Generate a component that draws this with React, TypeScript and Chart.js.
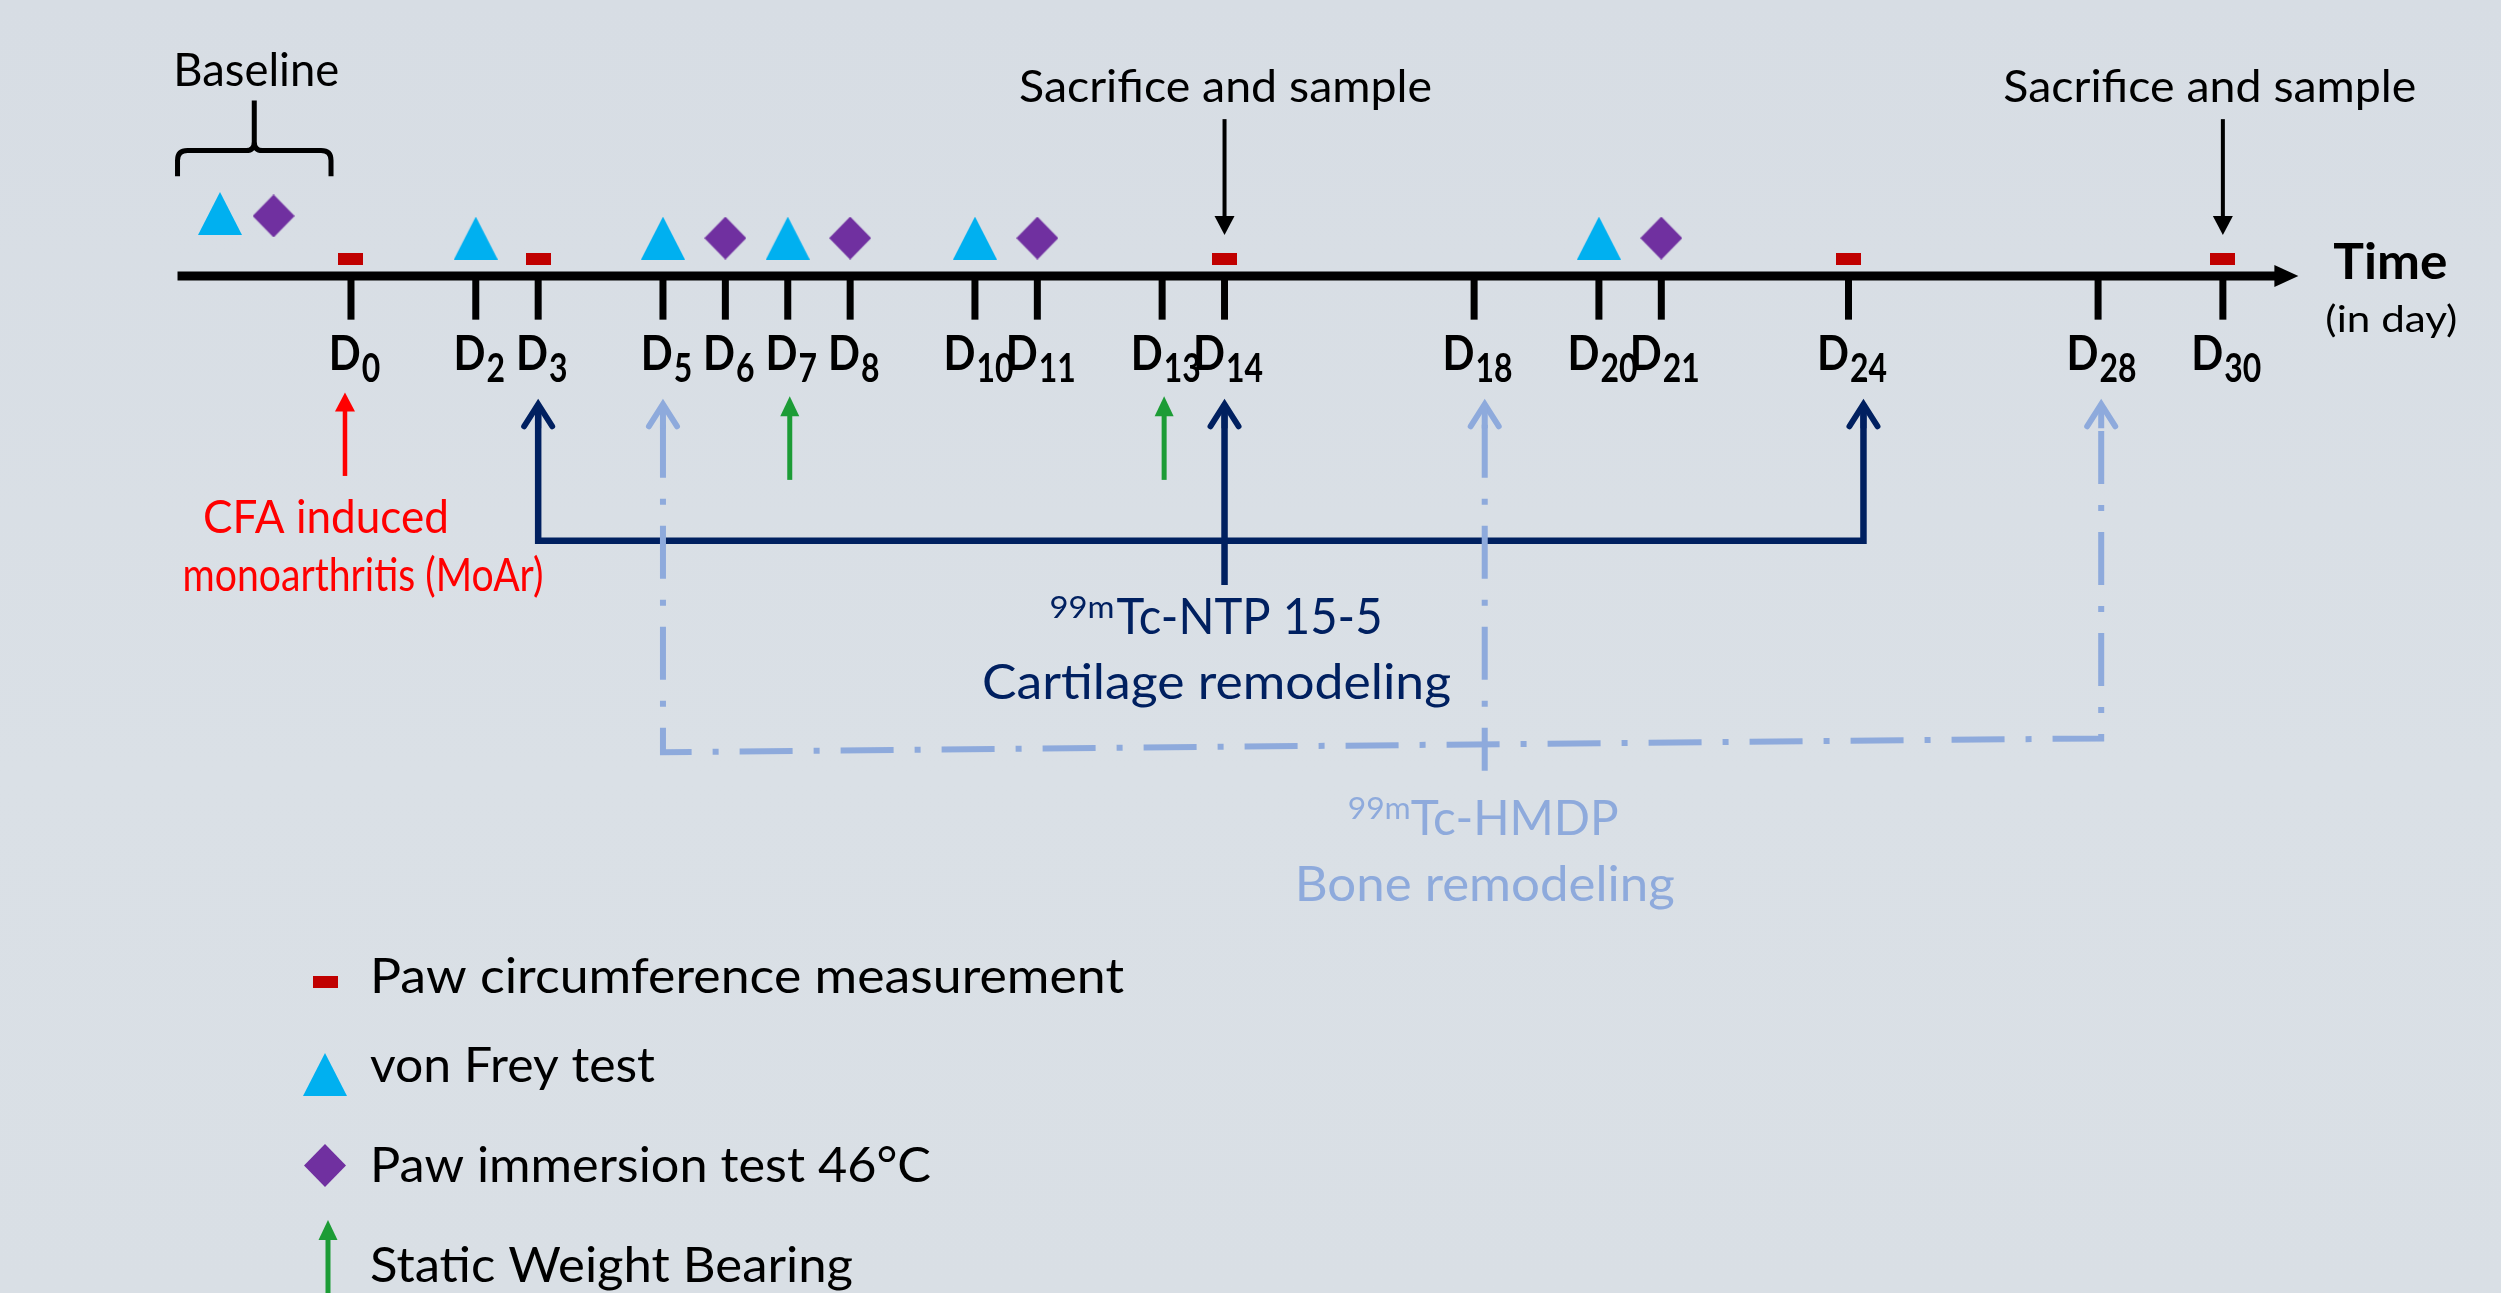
import React, { useEffect, useRef } from 'react';
import { Chart, registerables } from 'chart.js';

Chart.register(...registerables);

// ---------------- data ----------------
const tickDays = [0, 2, 3, 5, 6, 7, 8, 10, 11, 13, 14, 18, 20, 21, 24, 28, 30];
const tickLabels = ['0', '2', '3', '5', '6', '7', '8', '10', '11', '13', '14', '18', '20', '21', '24', '28', '30'];
const baselineVonFreyDays = [-2.1];
const baselineImmersionDays = [-1.24];
const vonFreyDays = [2, 5, 7, 10, 20];
const immersionDays = [6, 8, 11, 21];
const pawCircumferenceDays = [0, 3, 14, 24, 30];
const weightBearingDays = [7, 13];
const cfaDays = [0];
const sacrificeDays = [14, 30];
const ntpScanDays = [3, 14, 24.24];
const hmdpScanDays = [5, 18.17, 28.05];
const baselineSpan = [-2.78, -0.32];
const axisSpan = [-2.78, 31.21];
const legendLabels = ['Paw circumference measurement', 'von Frey test', 'Paw immersion test 46°C', 'Static Weight Bearing'];

// ---------------- layout ----------------
const W = 2501;
const H = 1293;
const PX_PER_DAY = 62.95;
const DAY0_PX = 343;
const X_MIN = -DAY0_PX / PX_PER_DAY;
const X_MAX = (W - DAY0_PX) / PX_PER_DAY;

const NAVY = '#002060';
const LIGHT_BLUE = '#8eaadc';
const GREEN = '#1c9c36';
const RED = '#ff0000';
const DARK_RED = '#c00000';
const CYAN = '#00b0f0';
const PURPLE = '#7030a0';
const FONT = 'Lato, "Open Sans", sans-serif';

const Y = {
  axis: 269.5,
  rect: 252,
  marker: 231,
  baseTri: 206,
  baseDia: 208.5,
  tickBottom: 314,
  labelBase: 365,
  subBase: 377,
  cfaTip: 388,
  cfaTail: 473,
  wbTip: 392,
  wbTail: 477,
  scanTip: 397,
  ntpBar: 539,
  ntpStem: 584,
  hmdpLeft: 754,
  hmdpRight: 740,
  hmdpStem: 773,
  sacTop: 110,
  sacTip: 228,
};

function mkCanvas(w: number, h: number, draw: (c: CanvasRenderingContext2D) => void) {
  const c = document.createElement('canvas');
  c.width = w;
  c.height = h;
  draw(c.getContext('2d') as CanvasRenderingContext2D);
  return c;
}

function makeImages() {
  const tri = mkCanvas(44, 43, (c) => {
    c.fillStyle = CYAN;
    c.beginPath();
    c.moveTo(22, 0);
    c.lineTo(44, 43);
    c.lineTo(0, 43);
    c.closePath();
    c.fill();
  });
  const dia = mkCanvas(42, 43, (c) => {
    c.fillStyle = PURPLE;
    c.beginPath();
    c.moveTo(21, 0);
    c.lineTo(42, 21.5);
    c.lineTo(21, 43);
    c.lineTo(0, 21.5);
    c.closePath();
    c.fill();
  });
  const rect = mkCanvas(25, 12, (c) => {
    c.fillStyle = DARK_RED;
    c.fillRect(0, 0, 25, 12);
  });
  return { tri, dia, rect };
}

function fitText(
  ctx: CanvasRenderingContext2D,
  text: string,
  x: number,
  y: number,
  size: number,
  weight: string,
  color: string,
  width: number,
  align: 'left' | 'center'
) {
  ctx.save();
  ctx.font = `${weight} ${size}px ${FONT}`;
  ctx.fillStyle = color;
  ctx.textBaseline = 'alphabetic';
  ctx.textAlign = 'left';
  const m = ctx.measureText(text).width;
  const sx = width / m;
  const left = align === 'center' ? x - width / 2 : x;
  ctx.translate(left, y);
  ctx.scale(sx, 1);
  ctx.fillText(text, 0, 0);
  ctx.restore();
}

function filledArrow(
  ctx: CanvasRenderingContext2D,
  x: number,
  yTip: number,
  yTail: number,
  color: string,
  lw: number,
  headW: number,
  headL: number
) {
  const dir = yTail > yTip ? 1 : -1;
  ctx.save();
  ctx.strokeStyle = color;
  ctx.fillStyle = color;
  ctx.lineWidth = lw;
  ctx.lineCap = 'butt';
  ctx.beginPath();
  ctx.moveTo(x, yTail);
  ctx.lineTo(x, yTip + dir * (headL - 2));
  ctx.stroke();
  ctx.beginPath();
  ctx.moveTo(x, yTip);
  ctx.lineTo(x + headW / 2, yTip + dir * headL);
  ctx.lineTo(x - headW / 2, yTip + dir * headL);
  ctx.closePath();
  ctx.fill();
  ctx.restore();
}

function chevron(ctx: CanvasRenderingContext2D, x: number, yTip: number, color: string, lw: number, halfW: number, len: number) {
  ctx.save();
  ctx.strokeStyle = color;
  ctx.lineWidth = lw;
  ctx.lineCap = 'round';
  ctx.lineJoin = 'miter';
  ctx.beginPath();
  ctx.moveTo(x - halfW, yTip + len);
  ctx.lineTo(x, yTip + 3);
  ctx.lineTo(x + halfW, yTip + len);
  ctx.stroke();
  ctx.lineCap = 'butt';
  ctx.beginPath();
  ctx.moveTo(x, yTip + 5);
  ctx.lineTo(x, yTip + len + 2);
  ctx.stroke();
  ctx.restore();
}

const timelinePlugin = {
  id: 'timelineDecor',
  afterDatasetsDraw(chart: any) {
    const ctx: CanvasRenderingContext2D = chart.ctx;
    const xs = chart.scales.x;
    const ys = chart.scales.y;
    const px = (d: number) => xs.getPixelForValue(d);
    const py = (v: number) => ys.getPixelForValue(v);

    // axis arrow head
    const tip = px(axisSpan[1]);
    ctx.save();
    ctx.fillStyle = '#000';
    ctx.beginPath();
    ctx.moveTo(tip, py(Y.axis));
    ctx.lineTo(tip - 24, py(Y.axis) - 11);
    ctx.lineTo(tip - 24, py(Y.axis) + 11);
    ctx.closePath();
    ctx.fill();
    ctx.restore();

    // ticks and labels
    tickDays.forEach((d, i) => {
      const x = px(d);
      ctx.save();
      ctx.strokeStyle = '#000';
      ctx.lineWidth = 7;
      ctx.beginPath();
      ctx.moveTo(x, py(Y.axis));
      ctx.lineTo(x, py(Y.tickBottom));
      ctx.stroke();
      ctx.restore();

      const wD = 32;
      const wS = 18.5 * tickLabels[i].length;
      const left = x + 3 - (wD + wS) / 2;
      fitText(ctx, 'D', left, py(Y.labelBase), 47, 'bold', '#000', wD, 'left');
      fitText(ctx, tickLabels[i], left + wD + 1, py(Y.subBase), 41, 'bold', '#000', wS, 'left');
    });

    // baseline brace
    const bx0 = px(baselineSpan[0]);
    const bx1 = px(baselineSpan[1]);
    const bxm = (bx0 + bx1) / 2;
    ctx.save();
    ctx.strokeStyle = '#000';
    ctx.lineWidth = 5;
    ctx.lineJoin = 'round';
    ctx.beginPath();
    ctx.moveTo(bx0, py(168));
    ctx.lineTo(bx0, py(152));
    ctx.quadraticCurveTo(bx0, py(142), bx0 + 10, py(142));
    ctx.lineTo(bxm - 8, py(142));
    ctx.quadraticCurveTo(bxm, py(142), bxm, py(133));
    ctx.lineTo(bxm, py(91));
    ctx.moveTo(bxm, py(133));
    ctx.quadraticCurveTo(bxm, py(142), bxm + 8, py(142));
    ctx.lineTo(bx1 - 10, py(142));
    ctx.quadraticCurveTo(bx1, py(142), bx1, py(152));
    ctx.lineTo(bx1, py(168));
    ctx.stroke();
    ctx.restore();
    fitText(ctx, 'Baseline', bxm + 2, py(76), 46, 'normal', '#000', 166, 'center');

    // sacrifice arrows + texts
    const sacTextOffsets = [1, -13];
    sacrificeDays.forEach((d, i) => {
      const x = px(d);
      filledArrow(ctx, x, py(Y.sacTip), py(Y.sacTop), '#000', 4, 20, 19);
      fitText(ctx, 'Sacrifice and sample', x + sacTextOffsets[i], py(93), 44, 'normal', '#000', 413, 'center');
    });

    // CFA arrow
    cfaDays.forEach((d) => {
      filledArrow(ctx, px(d) - 6, py(Y.cfaTip), py(Y.cfaTail), RED, 4.5, 20, 19);
      fitText(ctx, 'CFA induced', px(d) - 25, py(531), 46, 'normal', RED, 246, 'center');
      fitText(ctx, 'monoarthritis (MoAr)', px(d) + 12, py(590), 46, 'normal', RED, 361, 'center');
    });

    // static weight bearing arrows
    weightBearingDays.forEach((d) => {
      filledArrow(ctx, px(d) + 2, py(Y.wbTip), py(Y.wbTail), GREEN, 5, 19, 20);
    });

    // scan arrowheads
    ntpScanDays.forEach((d) => chevron(ctx, px(d), py(Y.scanTip), NAVY, 6, 14, 25));
    hmdpScanDays.forEach((d) => chevron(ctx, px(d), py(Y.scanTip), LIGHT_BLUE, 6, 14, 25));

    // NTP text
    const ntpX = px(ntpScanDays[1]);
    fitText(ctx, '99m', ntpX - 175, py(617), 31, 'normal', NAVY, 65, 'left');
    fitText(ctx, 'Tc-NTP 15-5', ntpX - 108, py(634), 50, 'normal', NAVY, 266, 'left');
    fitText(ctx, 'Cartilage remodeling', ntpX - 8, py(700), 49, 'normal', NAVY, 469, 'center');

    // HMDP text
    const hX = px(hmdpScanDays[1]);
    fitText(ctx, '99m', hX - 137, py(822), 31, 'normal', LIGHT_BLUE, 63, 'left');
    fitText(ctx, 'Tc-HMDP', hX - 74, py(838), 48, 'normal', LIGHT_BLUE, 208, 'left');
    fitText(ctx, 'Bone remodeling', hX, py(905), 49, 'normal', LIGHT_BLUE, 380, 'center');

    // Time label
    fitText(ctx, 'Time', tip + 35, py(273), 50, 'bold', '#000', 114, 'left');
    fitText(ctx, '(in day)', tip + 27, py(327), 37, 'normal', '#000', 132, 'left');

    // legend
    const imgs = chart.options.plugins.timelineDecor.imgs;
    const lx = 325;
    ctx.drawImage(imgs.rect, lx - 12, 976);
    ctx.drawImage(imgs.tri, lx - 22, 1053);
    ctx.drawImage(imgs.dia, lx - 21, 1144);
    filledArrow(ctx, lx + 3, 1220, 1300, GREEN, 5, 19, 20);
    const legendBase = [993, 1082, 1182, 1282];
    const legendW = [754, 285, 561, 483];
    legendLabels.forEach((t, i) => {
      fitText(ctx, t, 370, legendBase[i], 49, 'normal', '#000', legendW[i], 'left');
    });
  },
};

export default function App() {
  const ref = useRef<HTMLCanvasElement | null>(null);

  useEffect(() => {
    const canvas = ref.current;
    if (!canvas) return;
    const imgs = makeImages();
    const pts = (days: number[], y: number) => days.map((d) => ({ x: d, y }));
    const lineDs = (label: string, data: any[], color: string, width: number, dash: number[] = []) => ({
      label,
      data,
      showLine: true,
      borderColor: color,
      borderWidth: width,
      borderDash: dash,
      borderCapStyle: 'butt',
      borderJoinStyle: 'miter',
      pointRadius: 0,
      tension: 0,
      fill: false,
    });
    const DASH = [53, 21, 6, 21];

    const chart = new Chart(canvas, {
      type: 'scatter',
      data: {
        datasets: [
          lineDs(
            'HMDP bracket',
            [
              { x: hmdpScanDays[0], y: Y.scanTip + 24 },
              { x: hmdpScanDays[0], y: Y.hmdpLeft },
              { x: hmdpScanDays[2], y: Y.hmdpRight },
              { x: hmdpScanDays[2], y: Y.scanTip + 24 },
            ],
            LIGHT_BLUE,
            6,
            DASH
          ),
          lineDs(
            'HMDP stem',
            [
              { x: hmdpScanDays[1], y: Y.scanTip + 24 },
              { x: hmdpScanDays[1], y: Y.hmdpStem },
            ],
            LIGHT_BLUE,
            6,
            DASH
          ),
          lineDs(
            'NTP bracket',
            [
              { x: ntpScanDays[0], y: Y.scanTip + 6 },
              { x: ntpScanDays[0], y: Y.ntpBar },
              { x: ntpScanDays[2], y: Y.ntpBar },
              { x: ntpScanDays[2], y: Y.scanTip + 6 },
            ],
            NAVY,
            6.5
          ),
          lineDs(
            'NTP stem',
            [
              { x: ntpScanDays[1], y: Y.scanTip + 6 },
              { x: ntpScanDays[1], y: Y.ntpStem },
            ],
            NAVY,
            6.5
          ),
          lineDs(
            'Time axis',
            [
              { x: axisSpan[0], y: Y.axis },
              { x: axisSpan[1] - 0.3, y: Y.axis },
            ],
            '#000',
            9
          ),
          {
            label: 'Paw circumference',
            data: pts(pawCircumferenceDays, Y.rect),
            pointStyle: imgs.rect,
            pointRadius: 10,
            showLine: false,
          },
          {
            label: 'von Frey',
            data: [...pts(baselineVonFreyDays, Y.baseTri), ...pts(vonFreyDays, Y.marker)],
            pointStyle: imgs.tri,
            pointRadius: 10,
            showLine: false,
          },
          {
            label: 'Paw immersion',
            data: [...pts(baselineImmersionDays, Y.baseDia), ...pts(immersionDays, Y.marker)],
            pointStyle: imgs.dia,
            pointRadius: 10,
            showLine: false,
          },
        ] as any,
      },
      options: {
        animation: false,
        responsive: false,
        events: [],
        layout: { padding: 0 },
        plugins: {
          legend: { display: false },
          tooltip: { enabled: false },
          timelineDecor: { imgs },
        } as any,
        scales: {
          x: { type: 'linear', display: false, min: X_MIN, max: X_MAX },
          y: { type: 'linear', display: false, min: 0, max: H, reverse: true },
        },
      },
      plugins: [timelinePlugin],
    });
    return () => chart.destroy();
  }, []);

  return (
    <div
      style={{
        position: 'absolute',
        left: 0,
        top: 0,
        width: W,
        height: H,
        background: 'linear-gradient(180deg, #d7dde4 0%, #dae0e6 60%, #d9dfe5 100%)',
        overflow: 'hidden',
      }}
    >
      <canvas ref={ref} width={W} height={H} style={{ width: W, height: H, display: 'block' }} />
    </div>
  );
}
